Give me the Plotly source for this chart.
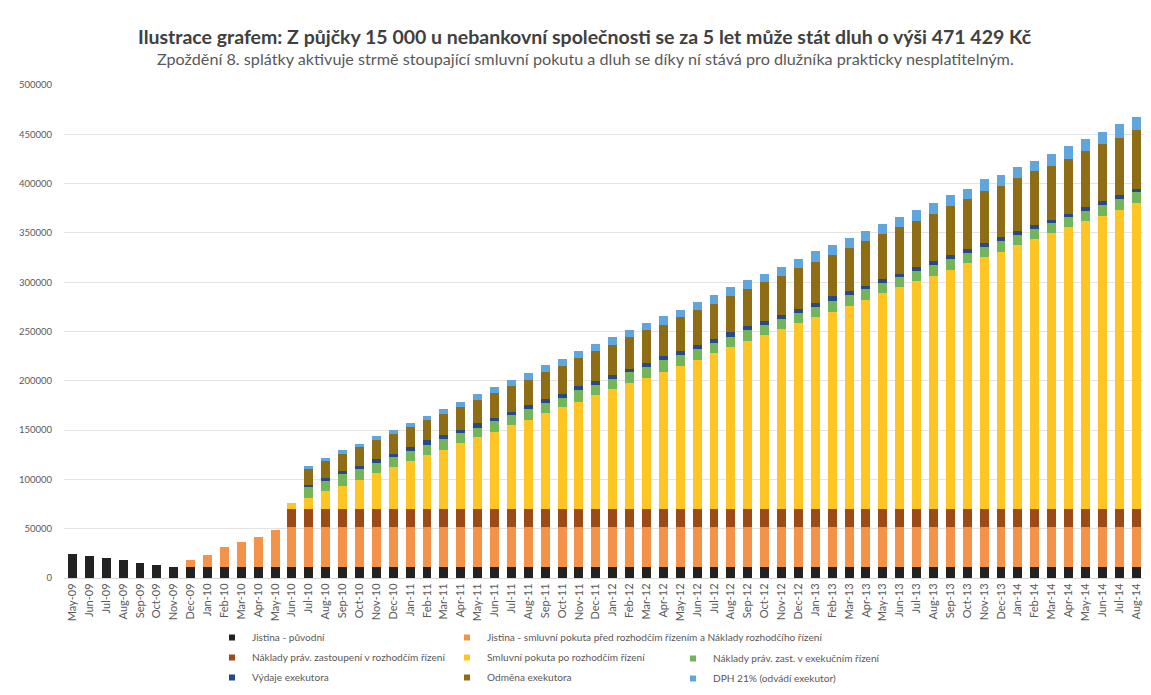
import plotly.graph_objects as go

months = [
    "May-09", "Jun-09", "Jul-09", "Aug-09", "Sep-09", "Oct-09", "Nov-09", "Dec-09",
    "Jan-10", "Feb-10", "Mar-10", "Apr-10", "May-10", "Jun-10", "Jul-10", "Aug-10", "Sep-10", "Oct-10", "Nov-10", "Dec-10",
    "Jan-11", "Feb-11", "Mar-11", "Apr-11", "May-11", "Jun-11", "Jul-11", "Aug-11", "Sep-11", "Oct-11", "Nov-11", "Dec-11",
    "Jan-12", "Feb-12", "Mar-12", "Apr-12", "May-12", "Jun-12", "Jul-12", "Aug-12", "Sep-12", "Oct-12", "Nov-12", "Dec-12",
    "Jan-13", "Feb-13", "Mar-13", "Apr-13", "May-13", "Jun-13", "Jul-13", "Aug-13", "Sep-13", "Oct-13", "Nov-13", "Dec-13",
    "Jan-14", "Feb-14", "Mar-14", "Apr-14", "May-14", "Jun-14", "Jul-14", "Aug-14",
]

jistina_puvodni = [
    24800, 22800, 20100, 18000, 15400, 13400, 11400, 11400,
    11400, 11400, 11400, 11400, 11400, 11400, 11400, 11400, 11400, 11400, 11400, 11400,
    11400, 11400, 11400, 11400, 11400, 11400, 11400, 11400, 11400, 11400, 11400, 11400,
    11400, 11400, 11400, 11400, 11400, 11400, 11400, 11400, 11400, 11400, 11400, 11400,
    11400, 11400, 11400, 11400, 11400, 11400, 11400, 11400, 11400, 11400, 11400, 11400,
    11400, 11400, 11400, 11400, 11400, 11400, 11400, 11400,
]

jistina_pokuta_pred = [
    0, 0, 0, 0, 0, 0, 0, 6600,
    12400, 19800, 24900, 30400, 36800, 40500, 40500, 40500, 40500, 40500, 40500, 40500,
    40500, 40500, 40500, 40500, 40500, 40500, 40500, 40500, 40500, 40500, 40500, 40500,
    40500, 40500, 40500, 40500, 40500, 40500, 40500, 40500, 40500, 40500, 40500, 40500,
    40500, 40500, 40500, 40500, 40500, 40500, 40500, 40500, 40500, 40500, 40500, 40500,
    40500, 40500, 40500, 40500, 40500, 40500, 40500, 40500,
]

naklady_rozhodci = [
    0, 0, 0, 0, 0, 0, 0, 0,
    0, 0, 0, 0, 0, 18300, 18300, 18300, 18300, 18300, 18300, 18300,
    18300, 18300, 18300, 18300, 18300, 18300, 18300, 18300, 18300, 18300, 18300, 18300,
    18300, 18300, 18300, 18300, 18300, 18300, 18300, 18300, 18300, 18300, 18300, 18300,
    18300, 18300, 18300, 18300, 18300, 18300, 18300, 18300, 18300, 18300, 18300, 18300,
    18300, 18300, 18300, 18300, 18300, 18300, 18300, 18300,
]

smluvni_pokuta_po = [
    0, 0, 0, 0, 0, 0, 0, 0,
    0, 0, 0, 0, 0, 6100, 11100, 18500, 23600, 29000, 36400, 42200,
    48300, 54400, 60100, 66900, 72600, 78000, 84800, 90500, 97600, 103000, 108800, 115900,
    121600, 127700, 133100, 139200, 144600, 151400, 158100, 164200, 169900, 176700, 182500, 188500,
    194300, 200000, 206100, 212200, 219000, 224700, 230800, 236500, 242600, 249400, 255500, 260500,
    267600, 273700, 279800, 285900, 291600, 297400, 303500, 310200,
]

naklady_exekuce = [
    0, 0, 0, 0, 0, 0, 0, 0,
    0, 0, 0, 0, 0, 0, 10800, 9500, 11200, 11500, 10100, 10100,
    10800, 10800, 10800, 10100, 9500, 10800, 10100, 11200, 10100, 9500, 11500, 10100,
    10100, 10800, 10800, 11200, 11200, 10800, 10100, 10100, 11200, 10100, 10100, 10100,
    10100, 10800, 10800, 10800, 10100, 10500, 10100, 10500, 10800, 10100, 10100, 10800,
    10500, 10500, 10100, 9800, 10800, 10500, 10800, 10800,
]

vydaje_exekutora = [
    0, 0, 0, 0, 0, 0, 0, 0,
    0, 0, 0, 0, 0, 0, 2700, 3400, 3400, 3400, 4400, 3400,
    3700, 4100, 4400, 3400, 4400, 3400, 3400, 3400, 3400, 4400, 4100, 3700,
    4400, 3400, 4100, 4400, 4400, 4400, 4100, 4700, 4100, 3400, 4400, 4400,
    4400, 4700, 3800, 3400, 4100, 3000, 4100, 4100, 4400, 4100, 4100, 4400,
    4100, 4100, 3400, 3700, 3700, 4100, 4400, 3700,
]

odmena_exekutora = [
    0, 0, 0, 0, 0, 0, 0, 0,
    0, 0, 0, 0, 0, 0, 15900, 16900, 17600, 18600, 18600, 20300,
    19900, 20600, 21300, 23300, 24300, 25400, 26000, 26000, 27800, 28400, 28100, 30100,
    30400, 32100, 33100, 32100, 34100, 35500, 35800, 37200, 38200, 39500, 39500, 40900,
    41600, 42200, 43900, 45600, 45600, 47700, 47300, 48300, 49000, 50700, 52100, 51400,
    53400, 54100, 54800, 55800, 56400, 57800, 57500, 59200,
]

dph = [
    0, 0, 0, 0, 0, 0, 0, 0,
    0, 0, 0, 0, 0, 0, 3400, 3000, 3400, 3700, 4100, 4100,
    4400, 4700, 4700, 5100, 5700, 5700, 6100, 6400, 6600, 6400, 7100, 7100,
    7800, 7800, 7400, 8500, 7800, 7800, 9100, 8500, 9100, 8500, 8800, 9500,
    10800, 10100, 10500, 10100, 10500, 9800, 10500, 10800, 11800, 10500, 12200, 11800,
    10800, 10800, 12200, 12500, 12500, 12500, 13900, 13500,
]

series = [
    ("Jistina - původní", jistina_puvodni, "#222222", "legend"),
    ("Jistina - smluvní pokuta před rozhodčím řízením a Náklady rozhodčího řízení",
     jistina_pokuta_pred, "#F5924A", "legend2"),
    ("Náklady práv. zastoupení v rozhodčím řízení", naklady_rozhodci, "#9E4A16", "legend"),
    ("Smluvní pokuta po rozhodčím řízení", smluvni_pokuta_po, "#FFC623", "legend2"),
    ("Náklady práv. zast. v exekučním řízení", naklady_exekuce, "#72B55A", "legend3"),
    ("Výdaje exekutora", vydaje_exekutora, "#264A88", "legend"),
    ("Odměna exekutora", odmena_exekutora, "#8E6D14", "legend2"),
    ("DPH 21% (odvádí exekutor)", dph, "#60A6DD", "legend3"),
]

FONT = "Lato"
GREY = "#595959"
# the page body adds an 8 px margin, so the figure is sized to fit inside it
W, H = 1135, 679
ML, MT, MB, MR = 55.5, 77.3, 108.5, 0
PW, PH = W - ML - MR, H - MT - MB

fig = go.Figure()
for name, vals, col, _ in series:
    fig.add_trace(go.Bar(x=months, y=vals, name=name, marker=dict(color=col, line=dict(width=0)),
                         showlegend=False))

# legend entries (small square keys), arranged in three columns
for k, (name, vals, col, lg) in enumerate(series):
    fig.add_trace(go.Scatter(x=[None], y=[None], mode="markers", name=name,
                             marker=dict(symbol="square", size=6, color=col),
                             legend=lg, legendgroup="g%d" % k, showlegend=True,
                             hoverinfo="skip"))

leg_common = dict(orientation="v", xanchor="left", yanchor="top", traceorder="grouped",
                  tracegroupgap=1, bgcolor="rgba(0,0,0,0)", xref="container", yref="container",
                  font=dict(family=FONT, size=10.1, color=GREY))

fig.update_layout(
    width=W, height=H,
    margin=dict(l=ML, r=MR, t=MT, b=MB, pad=0, autoexpand=False),
    barmode="stack", bargap=0.47,
    paper_bgcolor="white", plot_bgcolor="white",
    font=dict(family=FONT, color=GREY),
    xaxis=dict(type="category", tickangle=-90, tickfont=dict(size=11, color=GREY),
               showgrid=False, showline=True, linecolor="#d9d9d9", linewidth=1,
               ticks="", range=[-0.5, 63.41], automargin=False),
    yaxis=dict(range=[0, 500000], dtick=50000, tickformat="d",
               tickfont=dict(size=9.5, color=GREY), showgrid=True, gridcolor="#e3e3e3",
               gridwidth=1, zeroline=False, showline=False, ticklabelstandoff=11,
               automargin=False),
    legend=dict(x=204 / W, y=1 - 615 / H, **leg_common),
    legend2=dict(x=439 / W, y=1 - 615 / H, **leg_common),
    legend3=dict(x=665 / W, y=1 - 636 / H, **leg_common),
    annotations=[
        dict(text="Ilustrace grafem: Z půjčky 15 000 u nebankovní společnosti se za 5 let může stát dluh o výši 471 429 Kč",
             xref="paper", yref="paper", x=(577 - ML) / PW, y=(H - MB - 29) / PH,
             xanchor="center", yanchor="middle",
             showarrow=False, font=dict(family=FONT, size=19.5, color="#404040", weight="bold")),
        dict(text="Zpoždění 8. splátky aktivuje strmě stoupající smluvní pokutu a dluh se díky ní stává pro dlužníka prakticky nesplatitelným.",
             xref="paper", yref="paper", x=(577 - ML) / PW, y=(H - MB - 51) / PH,
             xanchor="center", yanchor="middle",
             showarrow=False, font=dict(family=FONT, size=16.2, color=GREY)),
    ],
)

fig.write_html("out.html")
